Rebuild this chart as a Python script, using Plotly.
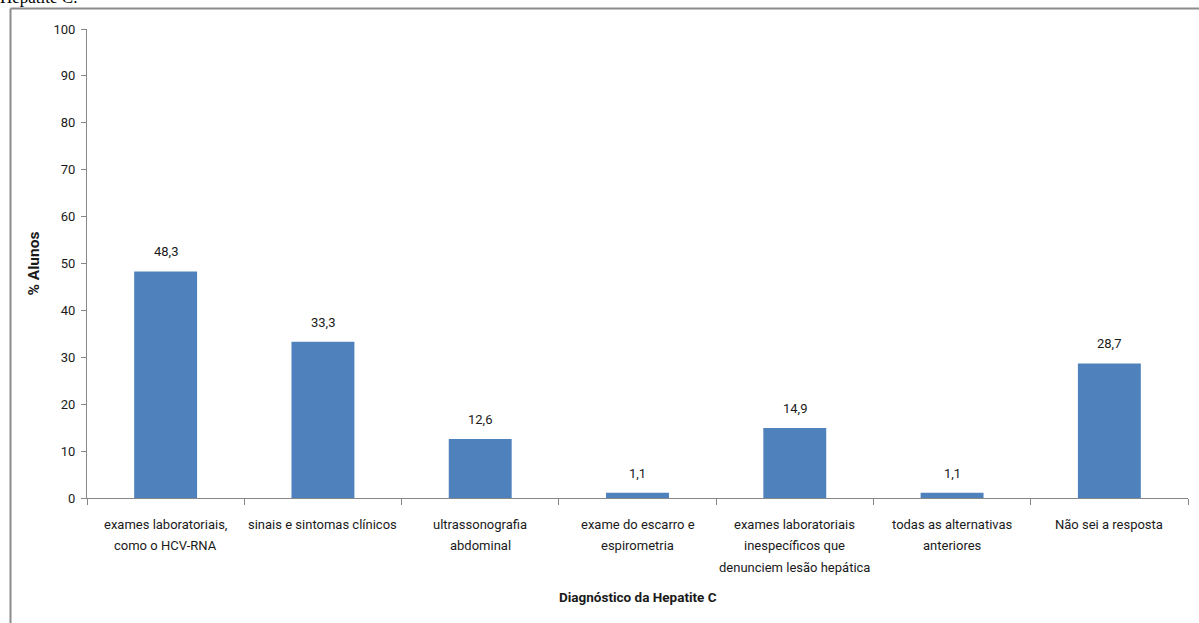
import plotly.graph_objects as go

categories = [
    "exames laboratoriais,<br>como o HCV-RNA",
    "sinais e sintomas clínicos",
    "ultrassonografia<br>abdominal",
    "exame do escarro e<br>espirometria",
    "exames laboratoriais<br>inespecíficos que<br>denunciem lesão hepática",
    "todas as alternativas<br>anteriores",
    "Não sei a resposta",
]
values = [48.3, 33.3, 12.6, 1.1, 14.9, 1.1, 28.7]
y_ticks = list(range(0, 101, 10))

FONT = "Roboto, sans-serif"
BAR_COLOR = "#4F81BD"
AXIS_COLOR = "#878787"
TEXT_COLOR = "#1a1a1a"

W, H = 1199, 623
ML, MR, MT, MB = 87, 11, 29, 125
plot_w = W - ML - MR
plot_h = H - MT - MB


def px_to_paper_x(px):
    return (px - ML) / plot_w


def px_to_paper_y(py):
    return (H - MB - py) / plot_h


fig = go.Figure(
    go.Bar(
        x=categories,
        y=values,
        marker=dict(color=BAR_COLOR, line=dict(width=0)),
        hoverinfo="skip",
    )
)

# value labels above each bar (decimal comma)
for cat, v in zip(categories, values):
    fig.add_annotation(
        x=cat, y=v, xref="x", yref="y",
        text=f"{v:.1f}".replace(".", ","),
        showarrow=False, yanchor="bottom", yshift=10,
        font=dict(family=FONT, size=13, color=TEXT_COLOR),
    )

# category labels under the axis, one line at a time for wider line spacing
LINE_GAP = 21.5
for cat in categories:
    for i, line in enumerate(cat.split("<br>")):
        fig.add_annotation(
            x=cat, y=0, xref="x", yref="y",
            text=line, showarrow=False,
            yanchor="middle", yshift=-(26 + LINE_GAP * i),
            font=dict(family=FONT, size=13, color=TEXT_COLOR),
        )

# x-axis title
fig.add_annotation(
    xref="paper", yref="paper", x=0.5, y=px_to_paper_y(597),
    yanchor="middle", text="<b>Diagnóstico da Hepatite C</b>", showarrow=False,
    font=dict(family=FONT, size=13.5, color=TEXT_COLOR),
)

# outer frame (left and top edges)
fx = px_to_paper_x(10.5)
fy = px_to_paper_y(8.5)
fig.add_shape(type="line", xref="paper", yref="paper",
              x0=fx, x1=fx, y0=px_to_paper_y(640), y1=fy,
              line=dict(color="#8c8c8c", width=2))
fig.add_shape(type="line", xref="paper", yref="paper",
              x0=fx, x1=px_to_paper_x(1210), y0=fy, y1=fy,
              line=dict(color="#8c8c8c", width=2))

# caption line above the frame
fig.add_annotation(
    xref="paper", yref="paper",
    x=px_to_paper_x(-2), y=px_to_paper_y(9),
    xanchor="left", yanchor="bottom",
    text="Hepatite C.", showarrow=False,
    font=dict(family="Liberation Serif, serif", size=17, color="black"),
)

fig.update_layout(
    width=W, height=H,
    margin=dict(l=ML, r=MR, t=MT, b=MB, autoexpand=False),
    paper_bgcolor="white", plot_bgcolor="white",
    bargap=0.6,
    showlegend=False,
    font=dict(family=FONT, size=13, color=TEXT_COLOR),
)

fig.update_xaxes(
    automargin=False, showticklabels=False,
    showline=True, linecolor=AXIS_COLOR, linewidth=1,
    ticks="outside", tickson="boundaries", ticklen=6, tickcolor=AXIS_COLOR,
    showgrid=False,
)

fig.update_yaxes(
    automargin=False,
    range=[0, 100], tickvals=y_ticks,
    showline=True, linecolor=AXIS_COLOR, linewidth=1,
    ticks="outside", ticklen=5, tickcolor=AXIS_COLOR, ticklabelstandoff=3,
    tickfont=dict(family=FONT, size=13, color=TEXT_COLOR),
    showgrid=False, zeroline=False,
    title=dict(text="<b>% Alunos</b>",
               font=dict(family=FONT, size=15.5, color=TEXT_COLOR), standoff=10),
)

fig.write_html("out.html")
